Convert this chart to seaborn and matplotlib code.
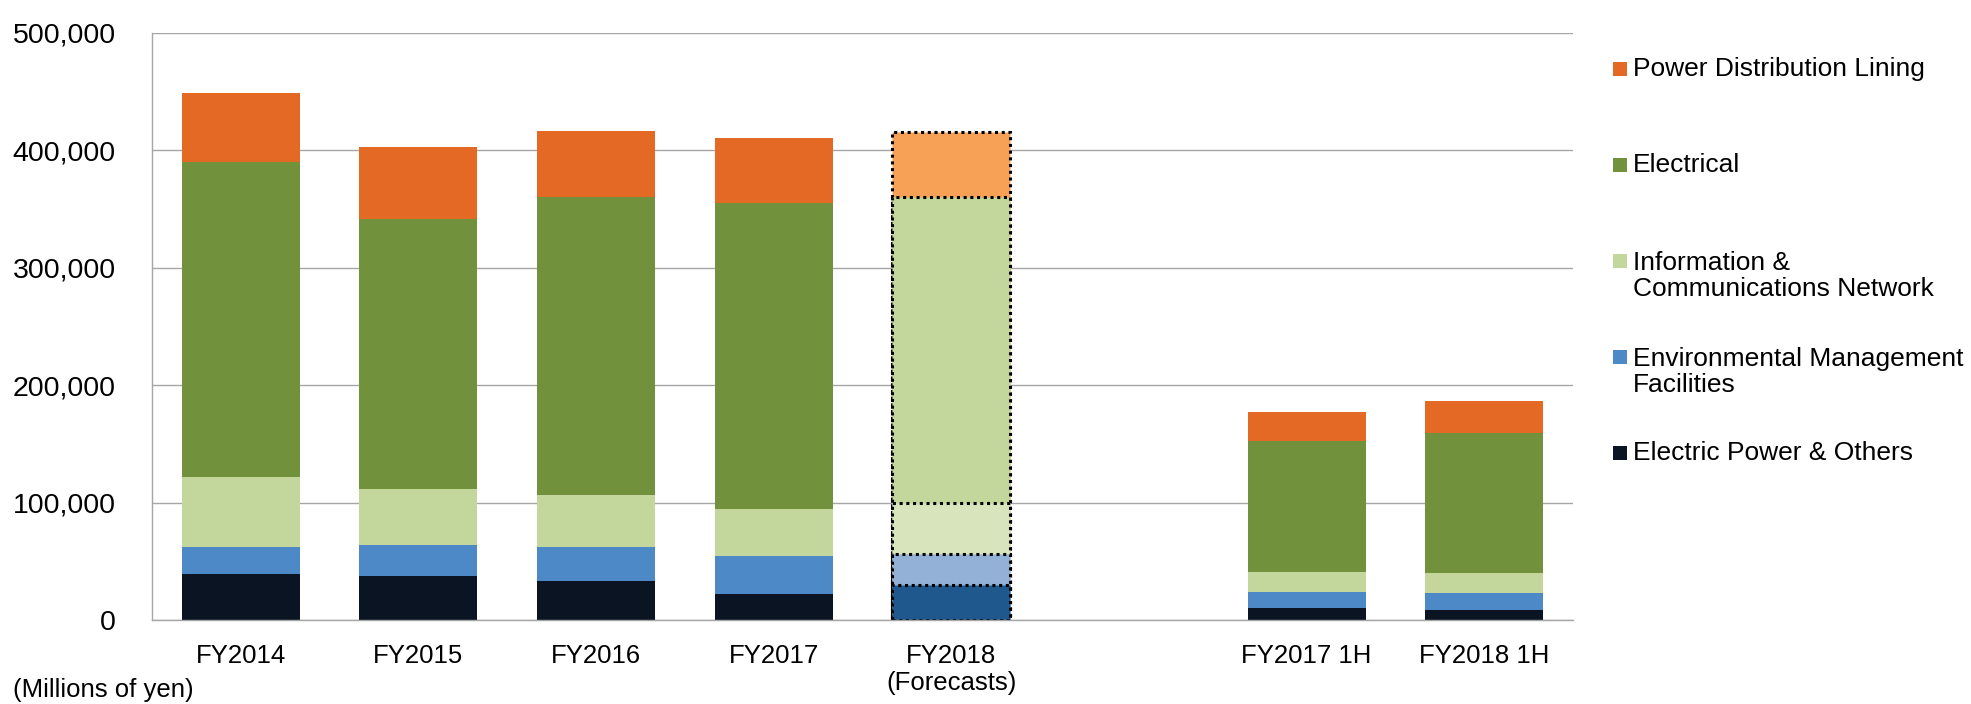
import numpy as np
import pandas as pd
import matplotlib
matplotlib.use("Agg")
import matplotlib.pyplot as plt
import seaborn as sns
from matplotlib.patches import Rectangle
from matplotlib.ticker import FuncFormatter

# categories (the empty one is the gap between full years and half years)
periods = ["FY2014", "FY2015", "FY2016", "FY2017", "FY2018\n(Forecasts)", "FY2017 1H", "FY2018 1H"]
axis_order = ["FY2014", "FY2015", "FY2016", "FY2017", "FY2018\n(Forecasts)", "", "FY2017 1H", "FY2018 1H"]
forecast = "FY2018\n(Forecasts)"

# segments bottom -> top (Millions of yen)
electric_power = [39500, 37700, 33400, 22300, 29700, 10500, 8800]
environmental = [22900, 26600, 29000, 31800, 26900, 13000, 14200]
info_comm = [59700, 47000, 44300, 40800, 42700, 17100, 16700]
electrical = [268400, 230600, 253200, 260700, 260600, 111500, 120000]
power_dist = [58100, 61300, 56600, 55000, 55700, 25200, 26700]

segments = ["Electric Power & Others", "Environmental Management\nFacilities",
            "Information &\nCommunications Network", "Electrical", "Power Distribution Lining"]
colors = ["#0A1423", "#4D89C6", "#C3D69B", "#72913C", "#E46925"]
forecast_colors = ["#1E588C", "#93B1D6", "#D7E4BC", "#C3D69B", "#F7A157"]

df = pd.DataFrame({"period": periods})
for name, vals in zip(segments, [electric_power, environmental, info_comm, electrical, power_dist]):
    df[name] = vals
cum = df[segments].cumsum(axis=1)
cum["period"] = periods

sns.set_style("white")
plt.rcParams["font.family"] = ["Liberation Sans", "DejaVu Sans"]
plt.rcParams["text.color"] = "black"

fig = plt.figure(figsize=(19.71, 7.04), dpi=100)
ax = fig.add_axes([152 / 1971, 84 / 704, (1573 - 152) / 1971, (620 - 33) / 704])

# stacked bars: draw cumulative totals, tallest first
seg_patches = {}
for i in reversed(range(len(segments))):
    n0 = len(ax.patches)
    sns.barplot(data=cum, x="period", y=segments[i], order=axis_order, color=colors[i],
                saturation=1, width=0.665, errorbar=None, linewidth=0, ax=ax)
    seg_patches[i] = ax.patches[n0:]

# forecast bar gets lighter colours and dotted outlines
fc_idx = axis_order.index(forecast)
for i, plist in seg_patches.items():
    for p in plist:
        if abs(p.get_x() + p.get_width() / 2 - fc_idx) < 0.1:
            p.set_facecolor(forecast_colors[i])
            p.set_edgecolor("black")
            p.set_linestyle((0, (1, 1.2)))
            p.set_linewidth(2.2)

grid_c = "#A6A6A6"
ax.set_axisbelow(True)
ax.yaxis.grid(True, color=grid_c, linewidth=1.0)
ax.set_ylim(0, 500000)
ax.set_xlim(-0.5, len(axis_order) - 0.5)
ax.set_yticks(np.arange(0, 500001, 100000))
ax.yaxis.set_major_formatter(FuncFormatter(lambda v, _: f"{int(v):,}"))
ax.set_xlabel("")
ax.set_ylabel("")

for s in ["top", "right"]:
    ax.spines[s].set_visible(False)
for s in ["left", "bottom"]:
    ax.spines[s].set_color(grid_c)
    ax.spines[s].set_linewidth(1.0)

ax.set_xticks(range(len(axis_order)))
ax.set_xticklabels(axis_order)
ax.set_xticks(np.arange(-0.5, len(axis_order), 1), minor=True)
ax.tick_params(axis="x", which="major", length=0, pad=17, labelsize=18.5, labelcolor="black")
ax.tick_params(axis="x", which="minor", length=6, width=1, color=grid_c)
ax.tick_params(axis="y", length=5, width=1, color=grid_c, pad=21, labelsize=20.5, labelcolor="black")

fig.text(13 / 1971, 1 - 690 / 704, "(Millions of yen)", fontsize=18.5, ha="left", va="center")

# legend (top segment first)
leg_y = [69, 165, 276, 372, 453]
for j, i in enumerate(reversed(range(len(segments)))):
    y = leg_y[j]
    top_line = y - 15 if "\n" in segments[i] else y
    fig.add_artist(Rectangle((1613 / 1971, 1 - (top_line + 7) / 704), 14 / 1971, 14 / 704,
                             transform=fig.transFigure, facecolor=colors[i], edgecolor="none"))
    fig.text(1633 / 1971, 1 - y / 704, segments[i], fontsize=19, ha="left", va="center",
             linespacing=1.1)

fig.savefig("out.png", dpi=100)
